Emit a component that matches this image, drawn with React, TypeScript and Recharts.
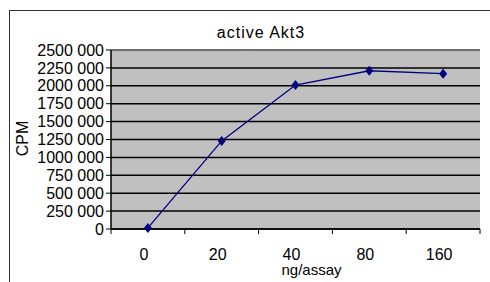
import React from 'react';
import { LineChart, Line, XAxis, YAxis, CartesianGrid, ReferenceLine } from 'recharts';

const xLabels = ['0', '20', '40', '80', '160'];
const cpmValues = [15000, 1230000, 2010000, 2210000, 2170000];
const yTicks = [0, 250000, 500000, 750000, 1000000, 1250000, 1500000, 1750000, 2000000, 2250000, 2500000];

const data = xLabels.map((label, i) => ({ dose: label, cpm: cpmValues[i] }));

const W = 490;
const H = 282;
const MARGIN = { top: 50, right: 10, bottom: 0, left: 0 };
const Y_AXIS_W = 111;
const PLOT_W = W - MARGIN.right - Y_AXIS_W;
const HALF_BAND = PLOT_W / xLabels.length / 2;
const FONT = 'Arial, "Liberation Sans", sans-serif';

const fmt = (v: number) => (v === 0 ? '0' : `${Math.floor(v / 1000)} 000`);

const XTick = (props: any) => {
  const { x, y, payload, index } = props;
  const top = y - 2;
  return (
    <g>
      <line x1={x - HALF_BAND} y1={top} x2={x - HALF_BAND} y2={top + 5} stroke="#000" />
      {index === xLabels.length - 1 && (
        <line x1={x + HALF_BAND} y1={top} x2={x + HALF_BAND} y2={top + 5} stroke="#000" />
      )}
      <text x={x - 4} y={top + 31} textAnchor="middle" fontSize={16} fill="#000" fontFamily={FONT}>
        {payload.value}
      </text>
    </g>
  );
};

const Diamond = (props: any) => {
  const { cx, cy } = props;
  if (cx == null || cy == null) return null;
  return <polygon points={`${cx},${cy - 5} ${cx + 4},${cy} ${cx},${cy + 5} ${cx - 4},${cy}`} fill="#000080" />;
};

export default function App() {
  return (
    <div style={{ position: 'absolute', left: 0, top: 0, width: W, height: H, overflow: 'hidden', background: '#fff' }}>
      <div style={{ position: 'absolute', left: 9, top: 10, width: W, height: H, borderLeft: '1.5px solid #333', borderTop: '1.5px solid #333' }} />
      <div
        style={{
          position: 'absolute', left: 161, top: 25, width: 200, textAlign: 'center',
          fontFamily: FONT, fontSize: 16, lineHeight: '16px', letterSpacing: 1, color: '#000',
        }}
      >
        active Akt3
      </div>
      <div style={{ position: 'absolute', left: 0, top: 0 }}>
        <LineChart width={W} height={H} data={data} margin={MARGIN} style={{ fontFamily: FONT }}>
          <CartesianGrid vertical={false} fill="#c0c0c0" stroke="#000" strokeWidth={1.5} />
          <ReferenceLine y={2500000} stroke="#808080" strokeWidth={1.5} />
          <XAxis
            dataKey="dose"
            scale="band"
            height={53}
            axisLine={{ stroke: '#000', strokeWidth: 1.5 }}
            tickLine={false}
            tickSize={0}
            tick={<XTick />}
            interval={0}
            label={{
              content: (p: any) => {
                const vb = p.viewBox;
                return (
                  <text x={vb.x + vb.width / 2 + 16} y={275} textAnchor="middle" fontSize={15} fill="#000" fontFamily={FONT}>
                    ng/assay
                  </text>
                );
              },
            }}
          />
          <YAxis
            width={Y_AXIS_W}
            domain={[0, 2500000]}
            ticks={yTicks}
            interval={0}
            tickFormatter={fmt}
            tickSize={5}
            tickMargin={2}
            axisLine={{ stroke: '#000', strokeWidth: 1.5 }}
            tickLine={{ stroke: '#000' }}
            tick={{ fontSize: 16, fill: '#000', fontFamily: FONT }}
            label={{
              content: (p: any) => {
                const vb = p.viewBox;
                const cx = 22;
                const cy = vb.y + vb.height / 2 - 1;
                return (
                  <text x={cx} y={cy} transform={`rotate(-90 ${cx} ${cy})`} textAnchor="middle" dominantBaseline="central" fontSize={16} fill="#000" fontFamily={FONT}>
                    CPM
                  </text>
                );
              },
            }}
          />
          <YAxis yAxisId="right" orientation="right" width={0} tick={false} tickLine={false} axisLine={{ stroke: '#808080', strokeWidth: 1.5 }} />
          <Line
            type="linear"
            dataKey="cpm"
            stroke="#000080"
            strokeWidth={1.3}
            dot={<Diamond />}
            activeDot={false}
            isAnimationActive={false}
          />
        </LineChart>
      </div>
    </div>
  );
}
